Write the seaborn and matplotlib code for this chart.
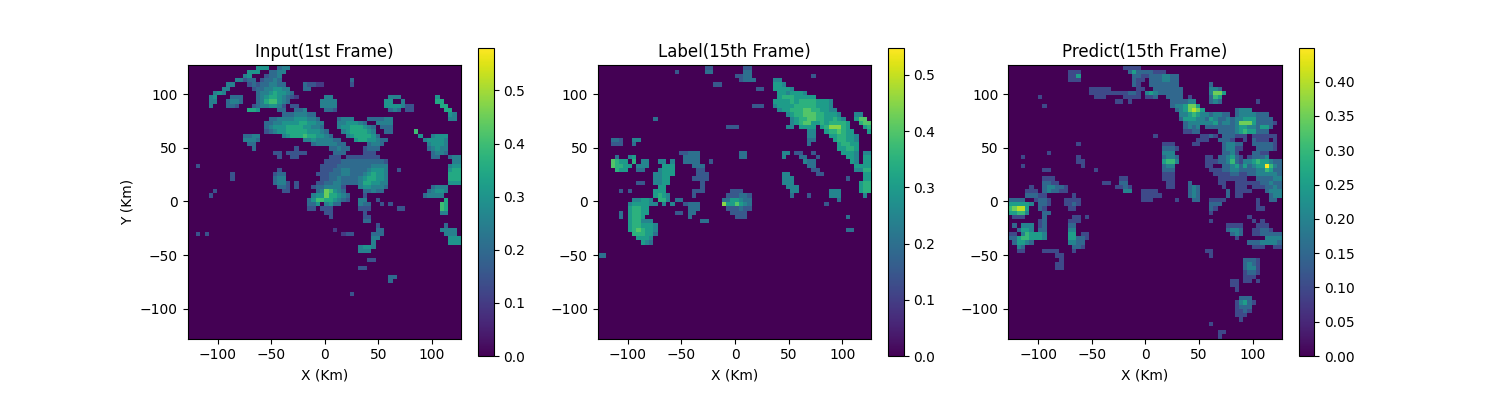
import numpy as np
import seaborn as sns
import matplotlib.pyplot as plt

# radar frames, 64 x 64 cells, one hex digit per cell (1 = 0.05)
# groups are 8 cells wide, _ is an empty group, rows left out are empty
input_rows = [
    "_ _ 666..455",
    "_ ......66 6..4455",
    "_ .....56. ..3445",
    "_ ...55344 .34454 _ ......4",
    "_ .55...34 3445544 ...43322 ......3",
    "_ 55.....3 44556655 ...44",
    "......56 5 45567665 4",
    ".....56. ..444 45677654 32 55 .......5 55 ..6",
    ".....55. .4554 45788654 .......5 555 ......66 ..5 ..77",
    ".....5 .443...3 4556653 33.....5 555 ......66 66533 ...77",
    "_ ......77 6....44 .445 443 .......4 54.33 ....77",
    "_ _ ......44 455544 _ _ _ .....65",
    "_ _ ...44555 5666554 ...4555 ..444455 _ .....55",
    "_ _ ..445566 66776655 ...55666 54..5555",
    "_ _ ..456667 77766554 ...56677 7654.444",
    "_ _ ..345667 77776665 4...5677 7765..44 .....8",
    "_ .....445 5.....56 77787766 54...567 77764 ......6 .5666",
    "_ .....555 4 ...55655 5544...6 7766544 .......5 66665",
    "_ ......44 _ .....455 55544 ..4554 _ 56665",
    "_ .......4 _ .3 .44544 .3444 _ 45655",
    "_ _ ....33.3 3333 ..444 .333 _ .4554",
    "_ _ .....3 33 .333.333 33333 _ .44..455",
    "_ _ _ _ 33334444 4444443 _ ......55",
    "..3 _ _ .......3 33344444 4445555 _ .....566",
    "_ _ .....3 .......3 33445544 4456665 .3 .....677",
    "_ ..3 ....344 ......33 34445544 4567665 _ .....777",
    "_ ..3 ....455 .......3 34454444 5677665 _ .....777",
    "_ _ ....4553 .3....33 44554444 5776655 _ .....666",
    "_ _ .....443 .3...344 55553 5665554 _ .4555",
    "......3 _ ......33 ......45 98654 .44544 _ 45665",
    ".....3 _ _ .....566 977654 .3 .......4 5555",
    "_ _ _ ....4688 776543 55..3 _ ....7",
    "_ _ _ ....446 5644 544..3.3 _ ...87",
    "_ _ _ ....33.3 33 333 .33 ...87",
    "_ _ _ _ 33 .3 _ ...55",
    "_ _ _ _ .3 .33",
    "_ _ _ _ _ .44",
    "_ _ _ _ _ ....3 _ ....4",
    "_ _ _ _ ..2 ....44 _ ...5555",
    "..3.3 _ _ _ ....233 ...444 _ ....555",
    "_ _ _ _ _ ...55 _ .....666",
    "_ _ _ _ _ ...5 _ .....666",
    "_ _ _ _ _ 5665",
    "_ _ _ _ _ 555",
    "",
    "_ _ _ _ _ ..33",
    "",
    "_ _ _ _ _ 33",
    "",
    "_ _ _ _ _ .......4 4",
    "_ _ _ _ _ .......4",
    "",
    "",
    "_ _ _ _ ......3",
]

label_rows = [
    "_ _ _ .33 ..33",
    "_ _ ..3 .44 ..44",
    "_ _ _ _ 3344 _ ..3",
    "_ _ _ _ .3444 .55",
    "_ _ _ ...33 _ .665",
    "_ _ _ _ .....33 .66665",
    "_ _ _ _ _ ..665666 5",
    "_ _ _ _ _ ..677766 666",
    "_ _ _ _ _ .6666767 7776665",
    "_ _ _ _ ....333 .5666677 7776665",
    "_ _ _ _ _ ..566777 88776655",
    "_ _ _ _ _ ....5677 88877666 5...55",
    "_ .....4 _ _ _ .....567 78877667 65..688",
    "_ _ _ _ _ .....567 88667677 776..788",
    "_ _ _ ......33 3 ....55.6 666.6799 976...67",
    "_ _ _ _ _ _ .55..677 8766...6",
    "_ _ _ _ _ _ .55...66 77665",
    "...443 55 _ _ _ _ .44....6 77665",
    "...333 4 _ _ _ _ .4 67766",
    "_ _ _ _ _ _ _ 66776",
    "_ _ ...33444 _ .44 ...55.33 ..3 .6665.55",
    "....4..5 6 ....4444 _ .44 ...5...4 4..3 ..665.66",
    "...8766. 7.55..55 .5..4444 ..3 _ _ 544 ...65.66",
    "...87766 .555...6 66....44 4 _ _ .44 ....6666",
    "....766 .44...56 66.....3 3 _ _ ..33 ....5577",
    "_ .....556 66.....3 33 _ ...55 ...33 ......66",
    "_ .....556 6.....33 33 _ ...555 _ ..3...66",
    "_ .33..556 6 3 _ ...555 _ .....677",
    "_ ......66 _ 3 _ ....555 _ .....677",
    ".....3.3 .....666 ......33 3......3 33 .....55 ......55 5....677",
    "_ .....676 5.....3 ......33 3443 .....4 .3....55 5.....5",
    "_ 55665.77 5.44 .....446 6544 _ _ 4",
    ".......5 666655.5 .5..3444 .....966 8654 _ .....3",
    ".......6 7766 .....444 ......33 3433",
    ".....4.6 7766 ..33.44 .......3 333",
    ".....4.6 776 .....4 _ 333 _ _ ..4",
    ".......6 77555 _ 44",
    ".......6 776665",
    ".......6 787665 _ _ _ _ _ ..44",
    "_ 777664",
    "_ .6665",
    "_ ..654",
    "",
    "",
    "44",
]

predict_rows = [
    "_ _ _ ...2222",
    "_ ......22 2 ....3533 33222",
    "_ ......22 5 .....332 23334433",
    "_ ......22 2 .....322 .3334433",
    "_ _ _ .....32 .3333333 .......3",
    "_ _ ...22222 ......22 ..333333 3......4 43",
    "_ _ ...22222 2222332 45433333 3......4 775",
    ".......2 _ ....222 ...2222 223..333 3.2....3 65",
    "_ _ _ .22.2 ......33 3344...3 43 ..2",
    "_ 2 _ _ ......34 45775",
    "_ _ _ _ .......3 457875 .....344 4",
    "_ _ _ _ _ 44565443 4433.344 44333",
    "_ _ _ _ _ 35554435 43343445 553333",
    "_ _ _ _ _ .3444444 53443477 7533332",
    "_ _ _ _ _ .3434.33 33333455 443553",
    "_ _ _ _ _ .2233 .3333456 55333",
    "_ _ _ _ ..2 .....223 2.333222 .222222",
    "_ _ _ _ _ ....222 .3332..2 .3222.2",
    "_ _ 2 _ ....222 ...22 ..34433 .333332",
    "_ _ _ _ ....3332 _ ..34422 ..33332",
    "_ .2 _ _ ....444 _ ..3342 .3322",
    "...2 _ 2 _ ....3443 ......22 .334532 23334",
    "_ _ 22 _ ....5664 ......22 23346324 45655433",
    "...2 _ .2 _ ....344 ......22 ..334535 34559643",
    "_ 22 ....2 _ ....333 .......2 22334433 33446533",
    "_ _ _ _ ....222 _ 22223322 33444443",
    "_ 222 _ ..22 ....222 _ .2222222 ..333344",
    "_ 3322 ......22 ..33 .....22 ..3 .22..222 22233433",
    ".....2 344332 _ .2232 .....22 ..343 ..2..222 .2223343",
    "....222 343322 _ ...44..2 222 ..343 ...3.222 2...3444",
    "....3332 2......2 _ .......2 2222 ..343 ...3.22 .....344",
    "3333..23 32...222 2 .......2 22.....2 ...33..2 222 ..2..33",
    "555554.3 32...223 2 _ _ .......3 33 ..2",
    "67885..3 2.....22 _ _ _ .......3 2 ..22",
    "55664 33 _ _ _ .......2",
    ".222 3......2 2.2 _ _ _ _ 2",
    ".......2 3.....22 2 _ _ .......2 _ .2.2",
    ".3.444.2 3.....33 _ _ _ _ ...2222 ..222",
    "..3554.3 3.....44 _ _ _ _ ...3443 .22332",
    "22.46555 4.....55 .22 _ _ _ ....343 .2233333",
    "33566555 4.....55 332 _ _ _ .....2 ....4444",
    ".35543 ......44 33 _ _ _ _ 33344443",
    "..43 .......3 32 _ _ _ _ .222..22",
    "..22 2222...2 _ _ _ ......22",
    "_ ...22 _ _ _ .......2",
    "_ ....2 _ _ _ _ .......3 332",
    "_ ...22 _ _ _ _ .......3 432",
    "_ ...22 _ _ _ _ .......3 442",
    "_ _ _ _ _ _ .......2 332",
    "_ _ _ _ _ _ .......2 22",
    "_ _ _ _ _ _ ....22.2 2.2",
    "_ _ _ _ _ _ ....22",
    "_ _ _ _ _ _ .....2",
    "",
    "_ _ _ _ _ _ ......33 3",
    "_ _ _ _ _ _ .....245 32",
    "_ _ _ _ _ _ .....233 3",
    "_ _ _ _ _ _ .....223 2",
    "_ _ _ _ _ _ .....222",
    "_ _ _ _ _ _ ......2",
    "_ _ _ _ _ .......2",
    "",
    "_ _ _ _ _ _ .22",
    "_ _ _ _ _ _ .2",
]

titles = ["Input(1st Frame)", "Label(15th Frame)", "Predict(15th Frame)"]
color_max = [0.58, 0.548, 0.449]
km_ticks = [-100, -50, 0, 50, 100]


def to_grid(rows):
    grid = np.zeros((64, 64))
    for r, row in enumerate(rows):
        cells = "".join(g.replace("_", "").ljust(8, ".") for g in row.split())
        for c, ch in enumerate(cells[:64]):
            if ch != ".":
                grid[r, c] = int(ch, 16) * 0.05
    return grid


frames = [to_grid(input_rows), to_grid(label_rows), to_grid(predict_rows)]

fig, axes = plt.subplots(1, 3, figsize=(15, 4), dpi=100)

for i, ax in enumerate(axes):
    sns.heatmap(frames[i], ax=ax, cmap="viridis", vmin=0, vmax=color_max[i], square=True,
                xticklabels=False, yticklabels=False, rasterized=True)
    ax.collections[0].colorbar.outline.set_linewidth(0.8)
    for spine in ax.spines.values():
        spine.set_visible(True)
        spine.set_linewidth(0.8)
    labels = [str(k).replace("-", "\u2212") for k in km_ticks]
    # the frame runs from -128 to 127 km over the 64 cells
    ax.set_xticks([(k + 128) * 64 / 255 for k in km_ticks], labels=labels, rotation=0)
    ax.set_yticks([(127 - k) * 64 / 255 for k in km_ticks], labels=labels, rotation=0)
    ax.set_title(titles[i])
    ax.set_xlabel("X (Km)")

axes[0].set_ylabel("Y (Km)")

fig.savefig("out.png", dpi=100)
